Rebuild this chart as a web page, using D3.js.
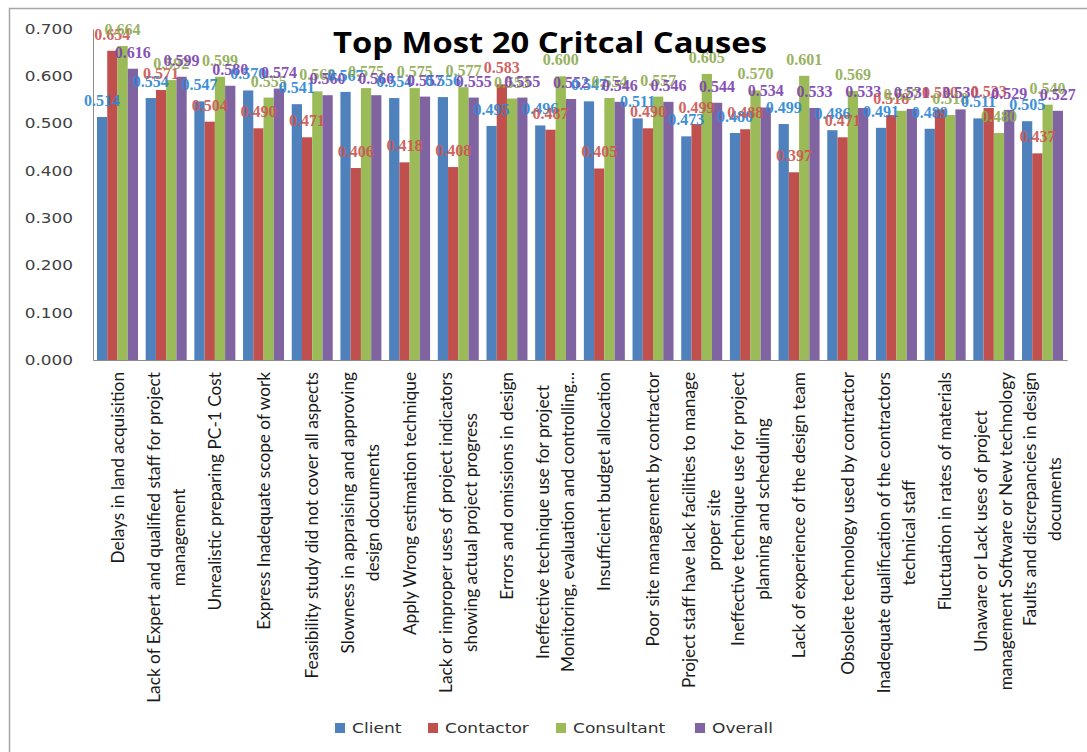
<!doctype html>
<html lang="en">
<head>
  <meta charset="utf-8">
  <script src="https://d3js.org/d3.v7.min.js"></script>
  <title>Top Most 20 Critcal Causes</title>
  <style>
    body { margin: 0; background: #fff; }
    svg { display: block; }
  </style>
</head>
<body>
  <svg id="chart" width="1087" height="752"></svg>
  <script>
    // category labels, already split into lines the way the chart wraps them
    var causes = [
      ["Delays in land acquisition"],
      ["Lack of Expert and qualified staff for project", "management"],
      ["Unrealistic preparing PC-1 Cost"],
      ["Express Inadequate scope of work"],
      ["Feasibility study did not cover all aspects"],
      ["Slowness in appraising and approving", "design documents"],
      ["Apply Wrong estimation technique"],
      ["Lack or improper uses of project indicators", "showing actual project progress"],
      ["Errors and omissions in design"],
      ["Ineffective technique use for project", "Monitoring, evaluation and controlling..."],
      ["Insufficient budget allocation"],
      ["Poor site management by contractor"],
      ["Project staff have lack facilities to manage", "proper site"],
      ["Ineffective technique use for project", "planning and scheduling"],
      ["Lack of experience of the design team"],
      ["Obsolete technology used by contractor"],
      ["Inadequate qualification of the contractors", "technical staff"],
      ["Fluctuation in rates of materials"],
      ["Unaware or Lack uses of project", "management Software or New technology"],
      ["Faults and discrepancies in design", "documents"]
    ];

    var client     = [0.514, 0.554, 0.547, 0.570, 0.541, 0.567, 0.554, 0.556, 0.495, 0.496,
                      0.547, 0.511, 0.473, 0.480, 0.499, 0.486, 0.491, 0.489, 0.511, 0.505];
    var contactor  = [0.654, 0.571, 0.504, 0.490, 0.471, 0.406, 0.418, 0.408, 0.583, 0.487,
                      0.405, 0.490, 0.499, 0.488, 0.397, 0.471, 0.518, 0.530, 0.533, 0.437];
    var consultant = [0.664, 0.592, 0.599, 0.555, 0.568, 0.575, 0.575, 0.577, 0.553, 0.600,
                      0.554, 0.557, 0.605, 0.570, 0.601, 0.569, 0.527, 0.518, 0.480, 0.540];
    var overall    = [0.616, 0.599, 0.580, 0.574, 0.560, 0.560, 0.557, 0.555, 0.555, 0.552,
                      0.546, 0.546, 0.544, 0.534, 0.533, 0.533, 0.531, 0.530, 0.529, 0.527];

    var seriesNames = ["Client", "Contactor", "Consultant", "Overall"];
    var yTicks = [0, 0.1, 0.2, 0.3, 0.4, 0.5, 0.6, 0.7];

    var seriesValues = [client, contactor, consultant, overall];
    var barColors = ["#4f81bd", "#c0504d", "#9bbb59", "#8064a2"];
    var labelColors = ["#2a86d4", "#cc5551", "#8dab50", "#7b40b0"];

    var svg = d3.select("#chart");

    // outer chart frame
    svg.append("rect")
      .attr("x", 9.5).attr("y", 8.5)
      .attr("width", 1200).attr("height", 900)
      .attr("fill", "none")
      .attr("stroke", "#a6a6a6")
      .attr("stroke-width", 1.5);

    var x = d3.scaleBand()
      .domain(d3.range(causes.length))
      .range([93, 1067])
      .paddingInner(0.158)
      .paddingOuter(0.082);

    var xs = d3.scaleBand()
      .domain(seriesNames)
      .range([0, x.bandwidth()]);

    var y = d3.scaleLinear()
      .domain([0, 0.7])
      .range([360, 29]);

    // y axis
    var yAxis = svg.append("g")
      .attr("transform", "translate(93,0)")
      .call(d3.axisLeft(y).tickValues(yTicks).tickSize(0).tickPadding(20).tickFormat(d3.format(".3f")));
    yAxis.select(".domain").attr("stroke", "#8c8c8c");
    yAxis.selectAll("text")
      .attr("x", 0)
      .attr("transform", "translate(-20,0) scale(1.25,1)")
      .style("font-family", "DejaVu Sans, Verdana, sans-serif")
      .style("font-size", "13.5px")
      .style("fill", "#404040");

    // x axis line only
    var xAxis = svg.append("g")
      .attr("transform", "translate(0,360)")
      .call(d3.axisBottom(x).tickSize(0).tickSizeOuter(0).tickFormat(""));
    xAxis.select(".domain").attr("stroke", "#8c8c8c");

    // bars
    var groups = svg.append("g").selectAll("g")
      .data(causes)
      .enter()
      .append("g")
      .attr("transform", function (d, i) { return "translate(" + x(i) + ",0)"; });

    seriesNames.forEach(function (name, s) {
      groups.append("rect")
        .attr("x", xs(name))
        .attr("y", function (d, i) { return y(seriesValues[s][i]); })
        .attr("width", xs.bandwidth())
        .attr("height", function (d, i) { return y(0) - y(seriesValues[s][i]); })
        .attr("fill", barColors[s]);
    });

    // data labels (drawn after all bars so they sit on top)
    seriesNames.forEach(function (name, s) {
      groups.append("text")
        .attr("x", xs(name) + xs.bandwidth() / 2)
        .attr("y", function (d, i) { return y(seriesValues[s][i]) - 11; })
        .attr("text-anchor", "middle")
        .style("font-family", "Liberation Serif, Times New Roman, serif")
        .style("font-weight", "bold")
        .style("font-size", "16px")
        .style("fill", labelColors[s])
        .style("opacity", 0.9)
        .text(function (d, i) { return seriesValues[s][i].toFixed(3); });
    });

    // rotated category labels, lines centred on the longest one
    var lineGap = 25;
    var stretch = 1.15;
    causes.forEach(function (lines, i) {
      var cx = x(i) + x.bandwidth() / 2;
      var g = svg.append("g");
      var texts = lines.map(function (line, k) {
        return g.append("text")
          .attr("text-anchor", "middle")
          .attr("dy", "0.35em")
          .style("font-family", "Lato, sans-serif")
          .style("font-size", "15px")
          .style("fill", "#1a1a1a")
          .text(line);
      });
      var longest = d3.max(texts, function (t) { return t.node().getComputedTextLength(); }) * stretch;
      var cy = 372 + longest / 2;
      texts.forEach(function (t, k) {
        var lx = cx + (k - (lines.length - 1) / 2) * lineGap;
        t.attr("transform", "translate(" + lx + "," + cy + ") rotate(-90) scale(" + stretch + ",1.15)");
      });
    });

    // title
    svg.append("text")
      .attr("x", 550)
      .attr("y", 53)
      .attr("text-anchor", "middle")
      .attr("textLength", 434)
      .attr("lengthAdjust", "spacingAndGlyphs")
      .style("font-family", "Open Sans, sans-serif")
      .style("font-weight", "bold")
      .style("font-size", "28px")
      .style("fill", "#000")
      .text("Top Most 20 Critcal Causes");

    // legend
    var legendX = [335, 428, 556, 695];
    var legend = svg.append("g");
    seriesNames.forEach(function (name, s) {
      legend.append("rect")
        .attr("x", legendX[s]).attr("y", 723)
        .attr("width", 10).attr("height", 10)
        .attr("fill", barColors[s]);
      legend.append("text")
        .attr("transform", "translate(" + (legendX[s] + 17) + ",733) scale(1.22,1)")
        .style("font-family", "DejaVu Sans, Verdana, sans-serif")
        .style("font-size", "14px")
        .style("fill", "#333")
        .text(name);
    });
  </script>
</body>
</html>
